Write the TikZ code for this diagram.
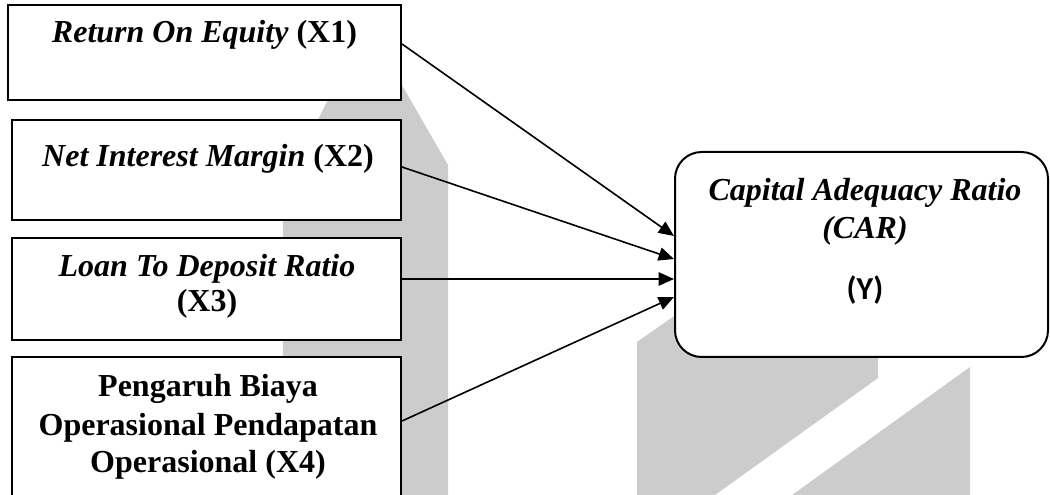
\documentclass[tikz,border=0pt]{standalone}
\usepackage{fontspec}
\setmainfont{Liberation Serif}
\newfontfamily\calib{Carlito}
\usetikzlibrary{arrows.meta,calc,fit}
\begin{document}
\begin{tikzpicture}[x=0.75pt,y=-0.75pt,
  box/.style={draw=black, line width=1.5pt, fill=white, inner sep=0pt},
  txt/.style={anchor=base, inner sep=0pt, font=\fontsize{24pt}{28pt}\selectfont\bfseries},
  wm/.style={fill=black!20, draw=none},
  arr/.style={line width=1.2pt, -{Triangle[length=11.5pt,width=10pt]}}]
\useasboundingbox (0,0) rectangle (1050,495);
\clip (0,0) rectangle (1050,495);
% watermark shapes
\fill[wm] (283,495) -- (283,190) -- (366,23) -- (448,165) -- (448,495) -- cycle;
\fill[wm] (637,495) -- (637,342) -- (690,305) -- (878,305) -- (878,378) -- (715,495) -- cycle;
\fill[wm] (970,367) -- (970,495) -- (792,495) -- cycle;
% boxes
\node[box, fit={(8,5) (401,100)}] (b1) {};
\node[box, fit={(12,120) (401,220)}] (b2) {};
\node[box, fit={(12,238) (401,340)}] (b3) {};
\node[box, fit={(12,357) (401,520)}] (b4) {};
\node[box, rounded corners=20pt, fit={(675,152) (1048,357)}] (car) {};
% arrows
\draw[arr] ($(b1.north east)+(0,40)$) -- ($(car.north west)+(0,85)$);
\draw[arr] ($(b2.north east)+(0,48)$) -- ($(car.north west)+(0,108)$);
\draw[arr] ($(b3.north east)+(0,42)$) -- ($(car.north west)+(0,128)$);
\draw[arr] ($(b4.north east)+(0,65)$) -- ($(car.north west)+(0,146)$);
% texts
\node[txt] (t1) at (204.5,43) {\textit{Return On Equity} (X1)};
\node[txt] (t2) at (208,167) {\textit{Net Interest Margin} (X2)};
\node[txt] (t3a) at (207,277) {\textit{Loan To Deposit Ratio}};
\node[txt] (t3b) at (207,312) {(X3)};
\node[txt] (t4a) at (208,397) {Pengaruh Biaya};
\node[txt] (t4b) at (208,435) {Operasional Pendapatan};
\node[txt] (t4c) at (208,472) {Operasional (X4)};
\node[txt] (c1) at (865,201) {\textit{Capital Adequacy Ratio}};
\node[txt] (c2) at (865,239) {\textit{(CAR)}};
\node[anchor=base, inner sep=0pt, font=\calib\fontsize{24pt}{28pt}\selectfont\bfseries] (c3) at (865,300) {(Y)};
\end{tikzpicture}
\end{document}
